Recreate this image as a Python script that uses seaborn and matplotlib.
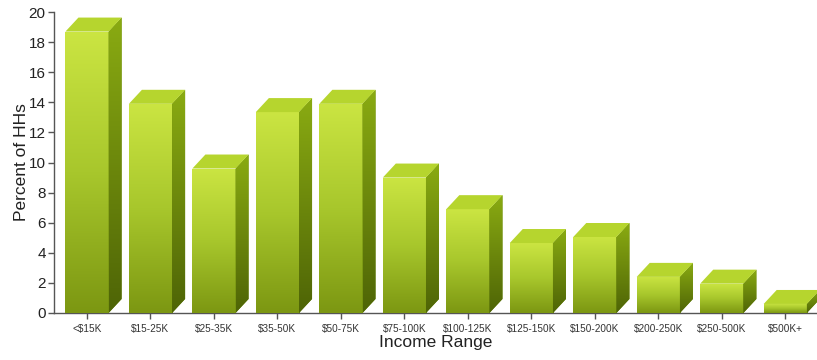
import matplotlib
matplotlib.use("Agg")
import matplotlib.pyplot as plt
import numpy as np
import pandas as pd
import seaborn as sns
from matplotlib.colors import LinearSegmentedColormap
from matplotlib.patches import Polygon

# Data
income_ranges = ["<$15K", "$15-25K", "$25-35K", "$35-50K", "$50-75K", "$75-100K",
                 "$100-125K", "$125-150K", "$150-200K", "$200-250K", "$250-500K", "$500K+"]
percent_hhs = [18.7, 13.9, 9.6, 13.35, 13.9, 9.0, 6.9, 4.65, 5.05, 2.4, 1.95, 0.6]

# Colours for the fake 3D bars
FRONT_CMAP = LinearSegmentedColormap.from_list("front", ["#7c9712", "#a8c72c", "#cbe542"])
SIDE_CMAP = LinearSegmentedColormap.from_list("side", ["#4e6406", "#8aab12"])
TOP_COLOR = "#b6d52e"

sns.set_style("white")
plt.rcParams["font.family"] = ["Liberation Sans", "DejaVu Sans"]

fig = plt.figure(figsize=(8.17, 3.6), dpi=100)
ax = fig.add_axes([54 / 817, 47 / 360, 1 - 54 / 817, 301 / 360])

df = pd.DataFrame({"Income Range": income_ranges, "Percent of HHs": percent_hhs})
sns.barplot(data=df, x="Income Range", y="Percent of HHs", color="#a4c427",
            width=0.68, saturation=1, linewidth=0, ax=ax)

ax.set_xlim(-0.52, 11.5)
ax.set_ylim(0, 20)

# depth of the bars (data units)
dx, dy = 0.205, 0.93
grad = np.linspace(0, 1, 256).reshape(-1, 1)

for patch in ax.patches[:]:
    x0, w, h = patch.get_x(), patch.get_width(), patch.get_height()
    x1 = x0 + w

    # front face with vertical gradient
    img = ax.imshow(grad, cmap=FRONT_CMAP, origin="lower", aspect="auto",
                    extent=[x0, x1, 0, h], zorder=3, interpolation="bilinear")
    img.set_clip_path(patch)

    # side face
    side = Polygon([(x1, 0), (x1 + dx, dy), (x1 + dx, h + dy), (x1, h)],
                   closed=True, facecolor="#6c8a0c", edgecolor="none", zorder=3, clip_on=False)
    ax.add_patch(side)
    simg = ax.imshow(grad, cmap=SIDE_CMAP, origin="lower", aspect="auto",
                     extent=[x1, x1 + dx, 0, h + dy], zorder=3, interpolation="bilinear")
    simg.set_clip_path(side)

    # top face
    top = Polygon([(x0, h), (x1, h), (x1 + dx, h + dy), (x0 + dx, h + dy)],
                  closed=True, facecolor=TOP_COLOR, edgecolor="none", zorder=3, clip_on=False)
    ax.add_patch(top)

ax.set_xlim(-0.52, 11.5)
ax.set_ylim(0, 20)
ax.set_yticks(np.arange(0, 21, 2))

sns.despine(ax=ax)
for side_name in ["left", "bottom"]:
    ax.spines[side_name].set_color("#555555")
    ax.spines[side_name].set_linewidth(1)

ax.tick_params(axis="y", direction="out", length=4, width=1, color="#555555",
               labelsize=11, labelcolor="#222222", left=True, pad=2)
ax.tick_params(axis="x", direction="out", length=4, width=1, color="#555555",
               labelsize=7.2, labelcolor="#333333", bottom=True, pad=4)

ax.set_xlabel("Income Range", fontsize=12.5, color="#222222", labelpad=1)
ax.set_ylabel("Percent of HHs", fontsize=12.5, color="#222222", labelpad=0)

fig.savefig("out.png", dpi=100)
